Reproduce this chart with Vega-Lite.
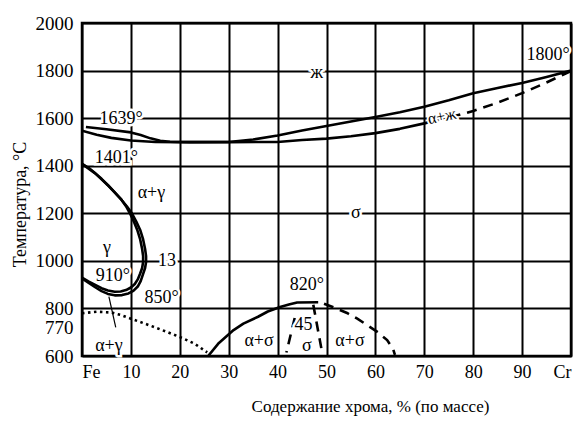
{
  "$schema": "https://vega.github.io/schema/vega-lite/v6.json",
  "width": 489,
  "height": 333,
  "autosize": {"type": "none"},
  "padding": {"left": 82, "top": 23, "right": 8, "bottom": 71},
  "background": "white",
  "datasets": {
    "lines": [
      {"c": "liquidus", "s": "solid", "i": 1, "x": 0.8, "t": 1563},
      {"c": "liquidus", "s": "solid", "i": 2, "x": 5, "t": 1553},
      {"c": "liquidus", "s": "solid", "i": 3, "x": 10, "t": 1540},
      {"c": "liquidus", "s": "solid", "i": 4, "x": 12, "t": 1529},
      {"c": "liquidus", "s": "solid", "i": 5, "x": 14, "t": 1515},
      {"c": "liquidus", "s": "solid", "i": 6, "x": 16, "t": 1505},
      {"c": "liquidus", "s": "solid", "i": 7, "x": 18, "t": 1501},
      {"c": "liquidus", "s": "solid", "i": 8, "x": 22, "t": 1499},
      {"c": "liquidus", "s": "solid", "i": 9, "x": 30, "t": 1500},
      {"c": "liquidus", "s": "solid", "i": 10, "x": 35, "t": 1510},
      {"c": "liquidus", "s": "solid", "i": 11, "x": 40, "t": 1527},
      {"c": "liquidus", "s": "solid", "i": 12, "x": 45, "t": 1548},
      {"c": "liquidus", "s": "solid", "i": 13, "x": 50, "t": 1567},
      {"c": "liquidus", "s": "solid", "i": 14, "x": 55, "t": 1586},
      {"c": "liquidus", "s": "solid", "i": 15, "x": 60, "t": 1605},
      {"c": "liquidus", "s": "solid", "i": 16, "x": 65, "t": 1625},
      {"c": "liquidus", "s": "solid", "i": 17, "x": 70, "t": 1648},
      {"c": "liquidus", "s": "solid", "i": 18, "x": 75, "t": 1675},
      {"c": "liquidus", "s": "solid", "i": 19, "x": 80, "t": 1705},
      {"c": "liquidus", "s": "solid", "i": 20, "x": 85, "t": 1727},
      {"c": "liquidus", "s": "solid", "i": 21, "x": 90, "t": 1748},
      {"c": "liquidus", "s": "solid", "i": 22, "x": 95, "t": 1773},
      {"c": "liquidus", "s": "solid", "i": 23, "x": 100, "t": 1800},

      {"c": "solidus", "s": "solid", "i": 1, "x": 0, "t": 1547},
      {"c": "solidus", "s": "solid", "i": 2, "x": 3, "t": 1530},
      {"c": "solidus", "s": "solid", "i": 3, "x": 6, "t": 1517},
      {"c": "solidus", "s": "solid", "i": 4, "x": 10, "t": 1506},
      {"c": "solidus", "s": "solid", "i": 5, "x": 15, "t": 1500},
      {"c": "solidus", "s": "solid", "i": 6, "x": 20, "t": 1499},
      {"c": "solidus", "s": "solid", "i": 7, "x": 30, "t": 1499},
      {"c": "solidus", "s": "solid", "i": 8, "x": 40, "t": 1500},
      {"c": "solidus", "s": "solid", "i": 9, "x": 45, "t": 1508},
      {"c": "solidus", "s": "solid", "i": 10, "x": 50, "t": 1514},
      {"c": "solidus", "s": "solid", "i": 11, "x": 55, "t": 1524},
      {"c": "solidus", "s": "solid", "i": 12, "x": 60, "t": 1537},
      {"c": "solidus", "s": "solid", "i": 13, "x": 65, "t": 1555},
      {"c": "solidus", "s": "solid", "i": 14, "x": 70, "t": 1578},
      {"c": "solidus", "s": "solid", "i": 15, "x": 72, "t": 1588},

      {"c": "solidus-cr", "s": "dash", "i": 1, "x": 72, "t": 1588},
      {"c": "solidus-cr", "s": "dash", "i": 2, "x": 76, "t": 1608},
      {"c": "solidus-cr", "s": "dash", "i": 3, "x": 80, "t": 1630},
      {"c": "solidus-cr", "s": "dash", "i": 4, "x": 85, "t": 1665},
      {"c": "solidus-cr", "s": "dash", "i": 5, "x": 90, "t": 1705},
      {"c": "solidus-cr", "s": "dash", "i": 6, "x": 95, "t": 1750},
      {"c": "solidus-cr", "s": "dash", "i": 7, "x": 100, "t": 1798},

      {"c": "gamma-outer", "s": "solid", "i": 1, "x": 0, "t": 1408},
      {"c": "gamma-outer", "s": "solid", "i": 2, "x": 1.4, "t": 1390},
      {"c": "gamma-outer", "s": "solid", "i": 3, "x": 2.7, "t": 1368},
      {"c": "gamma-outer", "s": "solid", "i": 4, "x": 4, "t": 1345},
      {"c": "gamma-outer", "s": "solid", "i": 5, "x": 5.3, "t": 1318},
      {"c": "gamma-outer", "s": "solid", "i": 6, "x": 6.7, "t": 1288},
      {"c": "gamma-outer", "s": "solid", "i": 7, "x": 8.1, "t": 1256},
      {"c": "gamma-outer", "s": "solid", "i": 8, "x": 9.2, "t": 1228},
      {"c": "gamma-outer", "s": "solid", "i": 9, "x": 10.2, "t": 1200},
      {"c": "gamma-outer", "s": "solid", "i": 10, "x": 11.1, "t": 1165},
      {"c": "gamma-outer", "s": "solid", "i": 11, "x": 11.9, "t": 1130},
      {"c": "gamma-outer", "s": "solid", "i": 12, "x": 12.5, "t": 1090},
      {"c": "gamma-outer", "s": "solid", "i": 13, "x": 12.9, "t": 1050},
      {"c": "gamma-outer", "s": "solid", "i": 14, "x": 13.1, "t": 1020},
      {"c": "gamma-outer", "s": "solid", "i": 15, "x": 13.1, "t": 995},
      {"c": "gamma-outer", "s": "solid", "i": 16, "x": 12.9, "t": 970},
      {"c": "gamma-outer", "s": "solid", "i": 17, "x": 12.5, "t": 945},
      {"c": "gamma-outer", "s": "solid", "i": 18, "x": 12, "t": 915},
      {"c": "gamma-outer", "s": "solid", "i": 19, "x": 11.4, "t": 892},
      {"c": "gamma-outer", "s": "solid", "i": 20, "x": 10.5, "t": 874},
      {"c": "gamma-outer", "s": "solid", "i": 21, "x": 9.5, "t": 863},
      {"c": "gamma-outer", "s": "solid", "i": 22, "x": 8.2, "t": 856},
      {"c": "gamma-outer", "s": "solid", "i": 23, "x": 6.7, "t": 855},
      {"c": "gamma-outer", "s": "solid", "i": 24, "x": 5.3, "t": 861},
      {"c": "gamma-outer", "s": "solid", "i": 25, "x": 4, "t": 873},
      {"c": "gamma-outer", "s": "solid", "i": 26, "x": 2.7, "t": 889},
      {"c": "gamma-outer", "s": "solid", "i": 27, "x": 1.3, "t": 908},
      {"c": "gamma-outer", "s": "solid", "i": 28, "x": 0, "t": 926},

      {"c": "gamma-inner", "s": "solid", "i": 1, "x": 0, "t": 1408},
      {"c": "gamma-inner", "s": "solid", "i": 2, "x": 2.7, "t": 1368},
      {"c": "gamma-inner", "s": "solid", "i": 3, "x": 5.3, "t": 1318},
      {"c": "gamma-inner", "s": "solid", "i": 4, "x": 8.1, "t": 1256},
      {"c": "gamma-inner", "s": "solid", "i": 5, "x": 9, "t": 1230},
      {"c": "gamma-inner", "s": "solid", "i": 6, "x": 9.8, "t": 1200},
      {"c": "gamma-inner", "s": "solid", "i": 7, "x": 10.6, "t": 1165},
      {"c": "gamma-inner", "s": "solid", "i": 8, "x": 11.3, "t": 1130},
      {"c": "gamma-inner", "s": "solid", "i": 9, "x": 11.9, "t": 1090},
      {"c": "gamma-inner", "s": "solid", "i": 10, "x": 12.3, "t": 1050},
      {"c": "gamma-inner", "s": "solid", "i": 11, "x": 12.5, "t": 1020},
      {"c": "gamma-inner", "s": "solid", "i": 12, "x": 12.5, "t": 995},
      {"c": "gamma-inner", "s": "solid", "i": 13, "x": 12.3, "t": 970},
      {"c": "gamma-inner", "s": "solid", "i": 14, "x": 11.9, "t": 947},
      {"c": "gamma-inner", "s": "solid", "i": 15, "x": 11.4, "t": 922},
      {"c": "gamma-inner", "s": "solid", "i": 16, "x": 10.8, "t": 903},
      {"c": "gamma-inner", "s": "solid", "i": 17, "x": 10, "t": 888},
      {"c": "gamma-inner", "s": "solid", "i": 18, "x": 9, "t": 877},
      {"c": "gamma-inner", "s": "solid", "i": 19, "x": 7.9, "t": 871},
      {"c": "gamma-inner", "s": "solid", "i": 20, "x": 6.7, "t": 870},
      {"c": "gamma-inner", "s": "solid", "i": 21, "x": 5.3, "t": 875},
      {"c": "gamma-inner", "s": "solid", "i": 22, "x": 4, "t": 885},
      {"c": "gamma-inner", "s": "solid", "i": 23, "x": 2.7, "t": 899},
      {"c": "gamma-inner", "s": "solid", "i": 24, "x": 1.3, "t": 914},
      {"c": "gamma-inner", "s": "solid", "i": 25, "x": 0, "t": 930},

      {"c": "sigma-dome", "s": "solid", "i": 1, "x": 25.8, "t": 600},
      {"c": "sigma-dome", "s": "solid", "i": 2, "x": 28, "t": 655},
      {"c": "sigma-dome", "s": "solid", "i": 3, "x": 31, "t": 709},
      {"c": "sigma-dome", "s": "solid", "i": 4, "x": 33, "t": 736},
      {"c": "sigma-dome", "s": "solid", "i": 5, "x": 36, "t": 765},
      {"c": "sigma-dome", "s": "solid", "i": 6, "x": 38, "t": 787},
      {"c": "sigma-dome", "s": "solid", "i": 7, "x": 40.5, "t": 806},
      {"c": "sigma-dome", "s": "solid", "i": 8, "x": 42.5, "t": 818},
      {"c": "sigma-dome", "s": "solid", "i": 9, "x": 44, "t": 825},
      {"c": "sigma-dome", "s": "solid", "i": 10, "x": 48.3, "t": 826},

      {"c": "sigma-right", "s": "dash", "i": 1, "x": 49.5, "t": 820},
      {"c": "sigma-right", "s": "dash", "i": 2, "x": 52, "t": 800},
      {"c": "sigma-right", "s": "dash", "i": 3, "x": 54.2, "t": 781},
      {"c": "sigma-right", "s": "dash", "i": 4, "x": 56.3, "t": 757},
      {"c": "sigma-right", "s": "dash", "i": 5, "x": 58.3, "t": 730},
      {"c": "sigma-right", "s": "dash", "i": 6, "x": 60.5, "t": 700},
      {"c": "sigma-right", "s": "dash", "i": 7, "x": 62.4, "t": 667},
      {"c": "sigma-right", "s": "dash", "i": 8, "x": 63.6, "t": 630},
      {"c": "sigma-right", "s": "dash", "i": 9, "x": 64, "t": 605},

      {"c": "sigma-l", "s": "dash", "i": 1, "x": 43.5, "t": 760},
      {"c": "sigma-l", "s": "dash", "i": 2, "x": 41.8, "t": 615},
      {"c": "sigma-r", "s": "dash", "i": 1, "x": 47.3, "t": 815},
      {"c": "sigma-r", "s": "dash", "i": 2, "x": 49.1, "t": 615},

      {"c": "curie", "s": "dot", "i": 1, "x": 0, "t": 780},
      {"c": "curie", "s": "dot", "i": 2, "x": 3, "t": 786},
      {"c": "curie", "s": "dot", "i": 3, "x": 6, "t": 783},
      {"c": "curie", "s": "dot", "i": 4, "x": 8, "t": 772},
      {"c": "curie", "s": "dot", "i": 5, "x": 10, "t": 757},
      {"c": "curie", "s": "dot", "i": 6, "x": 13, "t": 735},
      {"c": "curie", "s": "dot", "i": 7, "x": 16, "t": 712},
      {"c": "curie", "s": "dot", "i": 8, "x": 20, "t": 680},
      {"c": "curie", "s": "dot", "i": 9, "x": 23, "t": 652},
      {"c": "curie", "s": "dot", "i": 10, "x": 25.6, "t": 615}
    ],
    "leaders": [
      {"x": 5.5, "t": 850, "x2": 6.9, "t2": 720}
    ],
    "labels": [
      {"text": "ж", "x": 48, "t": 1790},
      {"text": "1800°", "x": 95.3, "t": 1865},
      {"text": "1639°", "x": 8, "t": 1598},
      {"text": "1401°", "x": 7, "t": 1432},
      {"text": "α+γ", "x": 14.2, "t": 1285},
      {"text": "σ", "x": 56, "t": 1200},
      {"text": "γ", "x": 5.1, "t": 1054},
      {"text": "13", "x": 17.4, "t": 1000},
      {"text": "910°", "x": 6.3, "t": 936},
      {"text": "850°", "x": 16.3, "t": 844},
      {"text": "820°", "x": 46, "t": 898},
      {"text": "45", "x": 45.3, "t": 730},
      {"text": "α+γ", "x": 5.5, "t": 640},
      {"text": "α+σ", "x": 36.2, "t": 663},
      {"text": "σ", "x": 46, "t": 640},
      {"text": "α+σ", "x": 54.8, "t": 663}
    ],
    "tilted": [
      {"text": "α+ж", "x": 73.6, "t": 1607}
    ]
  },
  "encoding": {
    "x": {
      "field": "x",
      "type": "quantitative",
      "scale": {"domain": [0, 100], "nice": false, "zero": false},
      "axis": {
        "values": [0, 10, 20, 30, 40, 50, 60, 70, 80, 90, 100],
        "labelExpr": "datum.value == 0 ? 'Fe' : datum.value == 100 ? 'Cr' : datum.label",
        "labelFlush": true,
        "labelPadding": 7,
        "labelFont": "Times New Roman",
        "labelFontSize": 18,
        "title": "Содержание хрома, % (по массе)",
        "titleFont": "Times New Roman",
        "titleX": 288,
        "titleY": 55,
        "titleAlign": "center",
        "titleBaseline": "alphabetic",
        "titleFontSize": 17
      }
    },
    "y": {
      "field": "t",
      "type": "quantitative",
      "scale": {"domain": [600, 2000], "nice": false, "zero": false},
      "axis": {
        "values": [600, 770, 800, 1000, 1200, 1400, 1600, 1800, 2000],
        "format": "d",
        "labelOverlap": false,
        "labelPadding": 9,
        "labelFont": "Times New Roman",
        "labelFontSize": 19,
        "labelOffset": {"condition": {"test": "datum.value == 770", "value": 12}, "value": 0},
        "gridOpacity": {"condition": {"test": "datum.value == 770", "value": 0}, "value": 1},
        "title": "Температура, °C",
        "titleFont": "Times New Roman",
        "titleX": -62,
        "titleY": 181,
        "titleAlign": "center",
        "titleBaseline": "middle",
        "titleFontSize": 18
      }
    }
  },
  "layer": [
    {
      "data": {"name": "lines"},
      "transform": [{"filter": "datum.s == 'solid'"}],
      "mark": {"type": "line", "color": "black", "strokeWidth": 2.6, "strokeJoin": "round", "clip": true},
      "encoding": {"detail": {"field": "c"}, "order": {"field": "i", "type": "quantitative"}}
    },
    {
      "data": {"name": "lines"},
      "transform": [{"filter": "datum.s == 'dash'"}],
      "mark": {"type": "line", "color": "black", "strokeWidth": 2.6, "strokeDash": [10, 7], "clip": true},
      "encoding": {"detail": {"field": "c"}, "order": {"field": "i", "type": "quantitative"}}
    },
    {
      "data": {"name": "lines"},
      "transform": [{"filter": "datum.s == 'dot'"}],
      "mark": {"type": "line", "color": "black", "strokeWidth": 2.6, "strokeDash": [2.5, 3.5], "clip": true},
      "encoding": {"detail": {"field": "c"}, "order": {"field": "i", "type": "quantitative"}}
    },
    {
      "data": {"name": "leaders"},
      "mark": {"type": "rule", "color": "black", "strokeWidth": 1.2},
      "encoding": {"x2": {"field": "x2"}, "y2": {"field": "t2"}}
    },
    {
      "data": {"name": "labels"},
      "mark": {"type": "text", "font": "Times New Roman", "fontSize": 18, "fill": "white", "stroke": "white", "strokeWidth": 5, "baseline": "middle"},
      "encoding": {"text": {"field": "text"}}
    },
    {
      "data": {"name": "labels"},
      "mark": {"type": "text", "font": "Times New Roman", "fontSize": 18, "color": "black", "baseline": "middle"},
      "encoding": {"text": {"field": "text"}}
    },
    {
      "data": {"name": "tilted"},
      "mark": {"type": "text", "font": "Times New Roman", "fontSize": 16, "fill": "white", "stroke": "white", "strokeWidth": 4, "baseline": "middle", "angle": 348},
      "encoding": {"text": {"field": "text"}}
    },
    {
      "data": {"name": "tilted"},
      "mark": {"type": "text", "font": "Times New Roman", "fontSize": 16, "color": "black", "baseline": "middle", "angle": 348},
      "encoding": {"text": {"field": "text"}}
    }
  ],
  "config": {
    "view": {"stroke": "black", "strokeWidth": 2.5},
    "font": "Times New Roman",
    "axis": {
      "grid": true,
      "gridColor": "black",
      "gridWidth": 2,
      "ticks": false,
      "domain": false,
      "labelColor": "black",
      "titleFontWeight": "normal",
      "titleColor": "black"
    }
  }
}
